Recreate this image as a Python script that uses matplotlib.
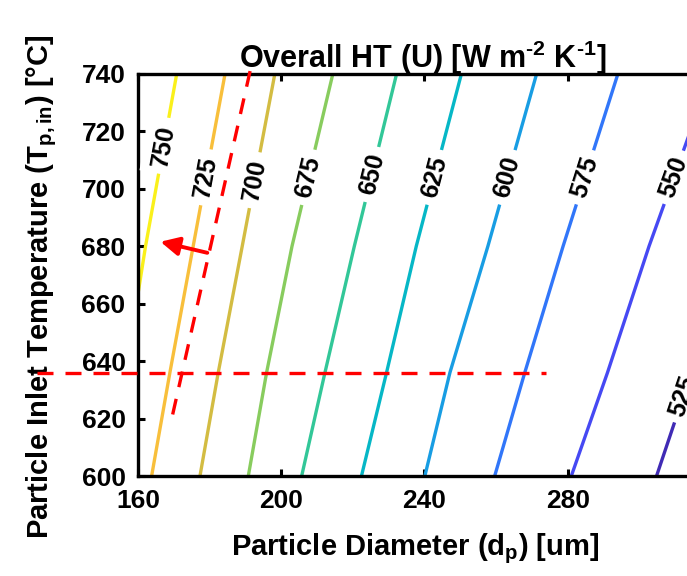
import matplotlib.pyplot as plt
import numpy as np
from matplotlib.colors import LinearSegmentedColormap, Normalize
from matplotlib.patches import FancyArrowPatch

plt.rcParams['font.family'] = ['Liberation Sans', 'DejaVu Sans']
plt.rcParams['font.weight'] = 'bold'
plt.rcParams['mathtext.fontset'] = 'custom'
plt.rcParams['mathtext.rm'] = 'Liberation Sans:bold'
plt.rcParams['mathtext.bf'] = 'Liberation Sans:bold'
plt.rcParams['mathtext.it'] = 'Liberation Sans:bold'

# overall heat transfer coefficient U [W m^-2 K^-1], one contour per level
levels = [750, 725, 700, 675, 650, 625, 600, 575, 550, 525]
# particle inlet temperatures where the contours were traced [degC]
T_rows = [600, 636, 680, 740]
# particle diameter [um] on each contour at T_rows
d_levels = [
    [151.5, 156.5, 162.1, 170.8],
    [163.8, 168.9, 175.4, 184.3],
    [177.3, 182.4, 189.1, 198.2],
    [190.8, 195.9, 203.0, 214.4],
    [205.7, 212.2, 220.4, 232.2],
    [222.4, 229.4, 237.7, 250.3],
    [240.1, 247.1, 257.7, 271.3],
    [259.6, 268.0, 278.7, 294.0],
    [281.0, 291.1, 302.7, 320.0],
    [304.8, 314.5, 328.0, 346.0],
]
# temperature at which each contour carries its label
label_T = [715, 704, 703, 704, 705, 704, 704, 704, 704, 628]

# red guide lines: operating temperature and the shifted 725 contour
hline_d = [131.8, 273.8]
hline_T = [636, 636]
slant_d = [191.3, 169.2]
slant_T = [741, 618.8]
arrow_tail = (180.1, 677.5)
arrow_tip = (165.5, 681.8)

xticks = [160, 200, 240, 280, 320]
yticks = [600, 620, 640, 660, 680, 700, 720, 740]

# parula-like colormap
parula = LinearSegmentedColormap.from_list('parula', [
    (0.242, 0.150, 0.660), (0.285, 0.260, 0.950), (0.200, 0.450, 0.985),
    (0.100, 0.610, 0.900), (0.020, 0.715, 0.780), (0.200, 0.780, 0.590),
    (0.560, 0.800, 0.350), (0.850, 0.730, 0.250), (0.990, 0.750, 0.230),
    (0.977, 0.984, 0.081)])
norm = Normalize(vmin=520, vmax=755)

fig = plt.figure(figsize=(6.87, 5.76), dpi=100)
ax = fig.add_axes([0.2009, 0.1736, 0.834, 0.698])
ax.set_xlim(160, 320)
ax.set_ylim(600, 740)

for lev, row in zip(levels, d_levels):
    ax.plot(row, T_rows, color=parula(norm(lev)), lw=2.4, zorder=2)

# inline contour labels, rotated along each line
for lev, row, tl in zip(levels, d_levels, label_T):
    dl = np.interp(tl, T_rows, row)
    p0 = ax.transData.transform((np.interp(tl - 5, T_rows, row), tl - 5))
    p1 = ax.transData.transform((np.interp(tl + 5, T_rows, row), tl + 5))
    ang = np.degrees(np.arctan2(p1[1] - p0[1], p1[0] - p0[0]))
    ax.text(dl, tl, str(lev), rotation=ang, rotation_mode='anchor',
            ha='center', va='center', fontsize=18, fontweight='bold',
            zorder=3, bbox=dict(boxstyle='square,pad=0.3', fc='white', ec='none'))

ax.plot(hline_d, hline_T, color='red', lw=2.4, dashes=(4.8, 3.6),
        clip_on=False, zorder=5)
ax.plot(slant_d, slant_T, color='red', lw=2.4, dashes=(4.8, 3.6),
        clip_on=False, zorder=5)
ax.add_patch(FancyArrowPatch(arrow_tail, arrow_tip, arrowstyle='-|>',
                             mutation_scale=28, color='red', lw=2.8, zorder=5))

ax.set_xticks(xticks)
ax.set_yticks(yticks)
ax.tick_params(direction='in', length=5, width=2.2, top=True, right=True,
               labelsize=19, pad=9)
for s in ax.spines.values():
    s.set_linewidth(2.4)

ax.set_title(r'Overall HT (U) [W m$^{\text{-2}}$ K$^{\text{-1}}$]', fontsize=22,
             fontweight='bold', x=0.497, y=1.015, va='baseline', pad=0)
ax.set_xlabel(r'Particle Diameter (d$_{\mathbf{p}}$) [um]', fontsize=21,
              fontweight='bold', va='top')
ax.xaxis.set_label_coords(0.483, -0.137)
ax.set_ylabel(r'Particle Inlet Temperature (T$_{\mathbf{p,in}}$) [°C]',
              fontsize=21, fontweight='bold', va='center')
ax.yaxis.set_label_coords(-0.1675, 0.47)

fig.savefig('out.png', dpi=100)
